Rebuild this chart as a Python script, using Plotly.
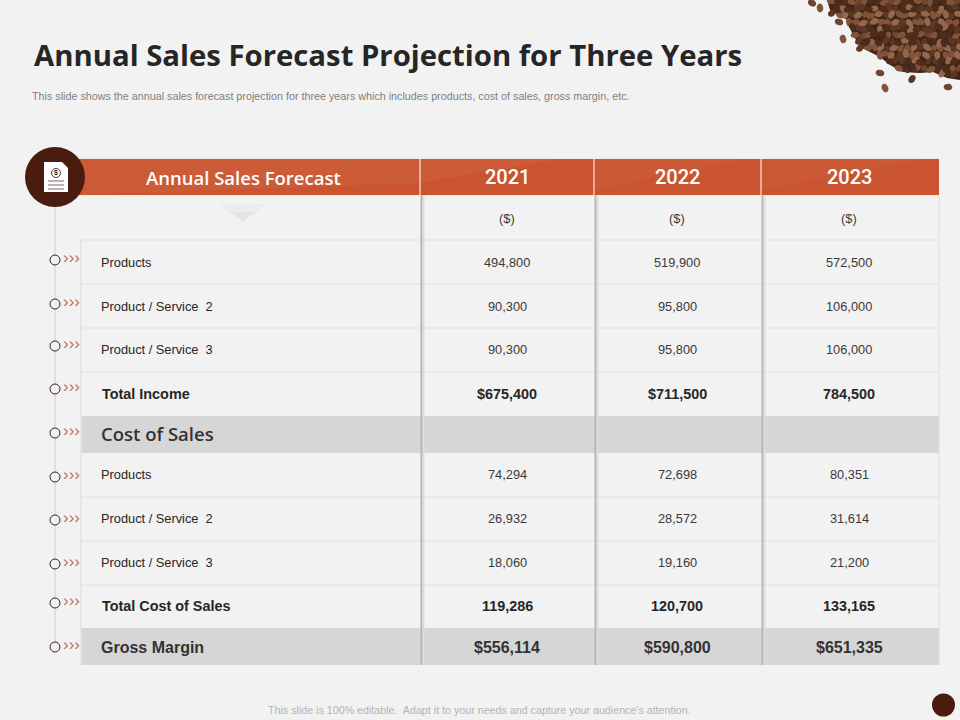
import math
import plotly.graph_objects as go

# table content
years = ["2021", "2022", "2023"]
row_labels = ["", "Products", "Product / Service  2", "Product / Service  3", "Total Income", "Cost of Sales",
              "Products", "Product / Service  2", "Product / Service  3", "Total Cost of Sales", "Gross Margin"]
values_2021 = ["($)", "494,800", "90,300", "90,300", "$675,400", "", "74,294", "26,932", "18,060", "119,286", "$556,114"]
values_2022 = ["($)", "519,900", "95,800", "95,800", "$711,500", "", "72,698", "28,572", "19,160", "120,700", "$590,800"]
values_2023 = ["($)", "572,500", "106,000", "106,000", "784,500", "", "80,351", "31,614", "21,200", "133,165", "$651,335"]

# layout of the slide, in pixels
row_edges = [195, 240, 284, 328, 372, 416, 453, 497, 541, 585, 628, 665]
text_y = [218.5, 262.5, 306.5, 349.5, 393.5, 433.5, 474.5, 518.5, 562.5, 605.5, 647.5]
col_edges = [81, 420, 594, 761, 939]
bold_rows = [4, 9]
big_rows = [5, 10]
bullet_y = [260, 304, 346, 389, 433, 477, 520, 564, 603, 647]
chevron_y = [259, 303, 345, 388, 432, 476, 519, 563, 602, 646]

BG = "#f2f2f2"
DARK = "#4a1c10"
ORANGE = "#c9542f"
TEXT = "#262626"
SANS = "Liberation Sans"
HEAD = "Open Sans"

fig = go.Figure()
shapes = []


def rect(x0, y0, x1, y1, color, layer="below"):
    shapes.append(dict(type="rect", x0=x0, y0=y0, x1=x1, y1=y1, fillcolor=color,
                       line=dict(width=0), layer=layer))


def hline(x0, x1, y, color="#e6e6e6", width=1.5):
    shapes.append(dict(type="line", x0=x0, x1=x1, y0=y, y1=y, line=dict(color=color, width=width), layer="below"))


def vline(x, y0, y1, color, width=1):
    shapes.append(dict(type="line", x0=x, x1=x, y0=y0, y1=y1, line=dict(color=color, width=width), layer="below"))


def poly(path, color, layer="below"):
    shapes.append(dict(type="path", path=path, fillcolor=color, line=dict(width=0), layer=layer))


def circle(cx, cy, r, color, line_color=None, line_width=0, layer="below"):
    shapes.append(dict(type="circle", x0=cx - r, x1=cx + r, y0=cy - r, y1=cy + r, fillcolor=color,
                       line=dict(color=line_color, width=line_width), layer=layer))


def put_text(x, y, text, size, color=TEXT, anchor="center", family=SANS, weight="normal"):
    fig.add_annotation(x=x, y=y, text=text, showarrow=False, xanchor=anchor, yanchor="middle", borderpad=0,
                       font=dict(size=size, color=color, family=family, weight=weight))


# coffee beans in the corner
blob = [(827, 0), (830, 10), (847, 20), (852, 33), (860, 47), (880, 57), (890, 65), (903, 72),
        (920, 73), (933, 72), (947, 78), (960, 80), (960, 0)]
stray = [(812, 3), (820, 8), (832, 13), (839, 22), (843, 39), (860, 48), (880, 73), (885, 88), (912, 79), (948, 87)]
bean_cols = ["#6f4530", "#835339", "#5d3725", "#93684c", "#4d2c1c"]
poly("M" + " L".join(f"{x},{y}" for x, y in blob) + " Z", "#3f2417")


def inside(x, y):
    for (x0, y0), (x1, y1) in zip(blob, blob[1:]):
        if x0 <= x <= x1 and x1 > x0:
            return y < y0 + (y1 - y0) * (x - x0) / (x1 - x0) - 1
    return False


beans = {c: ([], []) for c in bean_cols}


def add_bean(cx, cy, rx, ry, angle, col):
    xs, ys = beans[col]
    for k in range(15):
        t = 2 * math.pi * k / 14
        px, py = rx * math.cos(t), ry * math.sin(t)
        xs.append(cx + px * math.cos(angle) - py * math.sin(angle))
        ys.append(cy + px * math.sin(angle) + py * math.cos(angle))
    xs.append(None)
    ys.append(None)


for j in range(13):
    for i in range(24):
        bx = 826 + i * 6.6 + (j % 2) * 3.3 + ((i * j * 5) % 7 - 3) * 0.45
        by = 2 + j * 6.6 + ((i * i + j * 3) % 7 - 3) * 0.45
        if inside(bx, by):
            turn = (i * i * 13 + j * j * 29 + i * j * 7) % 180
            add_bean(bx, by, 4.6, 3.2, turn * math.pi / 180, bean_cols[(i * i + j * j * 2 + i * j) % 5])
for n, (bx, by) in enumerate(stray):
    add_bean(bx, by, 4.4, 3.4, 0.5 + n, bean_cols[n % 3])
for c, (xs, ys) in beans.items():
    fig.add_trace(go.Scatter(x=xs, y=ys, mode="lines", fill="toself", fillcolor=c, line=dict(width=0), hoverinfo="skip"))

# header band
rect(col_edges[0] - 10, row_edges[0] - 36, col_edges[-1], row_edges[0], ORANGE)
poly("M75,159 L560,159 L420,183 L75,195 Z", "#cc5b38")
poly("M594,159 L745,159 L594,190 Z", "#cb5935")
poly("M761,159 L925,159 L761,190 Z", "#cb5935")
for x in col_edges[1:4]:
    vline(x, 159, 195, "#f4c9b4", 1.5)
hline(75, 939, 158, "#f9e6dc", 1)
hline(75, 939, 196, "#f9e6dc", 1)

# table body
rect(col_edges[0], row_edges[5], col_edges[-1], row_edges[6], "#d6d6d6")
rect(col_edges[0], row_edges[10], col_edges[-1], row_edges[11], "#d6d6d6")
for y in row_edges[1:5] + row_edges[7:10]:
    hline(col_edges[0], col_edges[-1], y)
vline(col_edges[0], row_edges[1], row_edges[-1], "#e2e2e2", 1.5)
vline(col_edges[-1], row_edges[0], row_edges[-1], "#dedede", 1)
for x in col_edges[1:4]:
    vline(x + 1.5, row_edges[0], row_edges[-1], "#b4b4b4", 2)
    vline(x + 3.5, row_edges[0], row_edges[-1], "#dcdcdc", 2)
poly("M218,204 L268,204 L243,221 Z", "#ececec")
poly("M230,212 L256,212 L243,221 Z", "#e4e4e4")

# timeline on the left
vline(55, 190, bullet_y[-1], "#cfcfcf", 1)
circle(55, 177, 30, DARK)
poly("M44,162 L62,162 L68,168 L68,192 L44,192 Z", "#ffffff")
circle(56, 173, 4.5, "#ffffff", "#4a3a34", 1)
for y in (181, 185, 189):
    shapes.append(dict(type="line", x0=48, x1=64, y0=y, y1=y, line=dict(color="#8c817c", width=1.2)))
put_text(56, 173, "$", 7, "#3a2a24", weight="bold")
fig.add_trace(go.Scatter(x=[55] * len(bullet_y), y=bullet_y, mode="markers", hoverinfo="skip",
                         marker=dict(size=10, color=BG, line=dict(color="#3a2320", width=1))))
fig.add_trace(go.Scatter(x=[71.5] * len(chevron_y), y=chevron_y, mode="text", text=["›››"] * len(chevron_y),
                         textfont=dict(size=17, color="#c0705a", family=SANS), hoverinfo="skip"))

# table text
for i, (label, cy) in enumerate(zip(row_labels, text_y)):
    if not label:
        continue
    if i == 5:
        put_text(99.5, cy, label, 18.5, "#333333", anchor="left", family=HEAD, weight=600)
    elif i in big_rows:
        put_text(99.5, cy, label, 16, "#333333", anchor="left", weight="bold")
    elif i in bold_rows:
        put_text(100.5, cy, label, 14.4, anchor="left", weight="bold")
    else:
        put_text(99.5, cy, label, 12.8, anchor="left")

col_centers = [507, 677, 849]
for cx, col in zip(col_centers, [values_2021, values_2022, values_2023]):
    for i, (val, cy) in enumerate(zip(col, text_y)):
        if not val:
            continue
        if i in big_rows:
            put_text(cx, cy, val, 16, "#333333", weight="bold")
        elif i in bold_rows:
            put_text(cx, cy, val, 14.4, weight="bold")
        else:
            put_text(cx, cy, val, 12.8, "#3a3a3a")

put_text(243, 177, "Annual Sales Forecast", 18.5, "#ffffff", family=HEAD, weight=600)
for cx, year in zip(col_centers, years):
    put_text(cx, 177, year, 20, "#ffffff", family="Roboto", weight=500)

# title and notes
put_text(33, 55, "Annual Sales Forecast Projection for Three Years", 29.3, "#262626", "left", HEAD, "bold")
put_text(31, 96, "This slide shows the annual sales forecast projection for three years which includes products, cost of sales, gross margin, etc.",
         10.75, "#7f7f7f", "left")
put_text(479, 710, "This slide is 100% editable.  Adapt it to your needs and capture your audience's attention.", 10.7, "#b3b3b3")
circle(943.5, 705, 11.5, DARK)

fig.update_layout(
    width=960, height=720, margin=dict(l=0, r=0, t=0, b=0),
    paper_bgcolor=BG, plot_bgcolor=BG, showlegend=False, shapes=shapes, hovermode=False,
    xaxis=dict(range=[0, 960], visible=False, fixedrange=True),
    yaxis=dict(range=[720, 0], visible=False, fixedrange=True),
)
fig.write_html("out.html", config=dict(displayModeBar=False),
               post_script="document.body.style.margin='0';document.body.style.background='#f2f2f2';")
